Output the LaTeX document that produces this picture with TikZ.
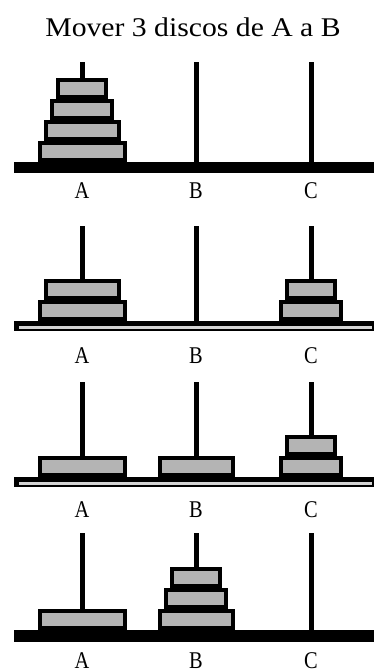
\documentclass[tikz,border=0pt]{standalone}
\usepackage{fontspec}
\setmainfont{Liberation Serif}
\definecolor{diskfill}{HTML}{B4B4B4}
\definecolor{barlight}{HTML}{D4D4D4}
\newcommand{\hdisk}[3]{\draw[disk] ({#1-#2/2+2},{#3-21+2}) rectangle ({#1+#2/2-2},{#3-2});}
\newcommand{\hpeg}[3]{\fill[peg] ({#1-2.5},#2) rectangle ({#1+2.5},#3);}
\begin{document}
\begin{tikzpicture}[x=1pt,y=-1pt,
  disk/.style={draw=black,line width=4pt,fill=diskfill},
  peg/.style={black},
  lbl/.style={font=\fontsize{24}{24}\selectfont,anchor=base,inner sep=0pt},
  ttl/.style={font=\fontsize{27}{27}\selectfont,anchor=base,inner sep=0pt}]
\useasboundingbox[fill=white] (0,0) rectangle (374,672);
\node[ttl] (title) at (193,36) {\scalebox{1.1}[1]{Mover 3 discos de A a B}};
% ---- panel 1 ----
\hpeg{82}{62}{162}\hpeg{196}{62}{162}\hpeg{311}{62}{162}
\hdisk{82}{89}{162}\hdisk{82}{77}{141}\hdisk{82}{64}{120}\hdisk{82}{52}{99}
\fill[black] (14,162) rectangle (374,173);
\node[lbl] (A1) at (82,198) {\scalebox{0.85}[1]{A}};
\node[lbl] (B1) at (196,198) {\scalebox{0.85}[1]{B}};
\node[lbl] (C1) at (311,198) {\scalebox{0.85}[1]{C}};
% ---- panel 2 ----
\hpeg{82}{226}{321}\hpeg{196}{226}{321}\hpeg{311}{226}{321}
\hdisk{82}{89}{321}\hdisk{82}{77}{300}
\hdisk{311}{64}{321}\hdisk{311}{52}{300}
\fill[black] (14,321) rectangle (374,331);
\fill[barlight] (19,326) rectangle (372,329);
\node[lbl] (A2) at (82,363) {\scalebox{0.85}[1]{A}};
\node[lbl] (B2) at (196,363) {\scalebox{0.85}[1]{B}};
\node[lbl] (C2) at (311,363) {\scalebox{0.85}[1]{C}};
% ---- panel 3 ----
\hpeg{82}{382}{477}\hpeg{196}{382}{477}\hpeg{311}{382}{477}
\hdisk{82}{89}{477}
\hdisk{196}{77}{477}
\hdisk{311}{64}{477}\hdisk{311}{52}{456}
\fill[black] (14,477) rectangle (374,487);
\fill[barlight] (19,482) rectangle (372,485);
\node[lbl] (A3) at (82,517) {\scalebox{0.85}[1]{A}};
\node[lbl] (B3) at (196,517) {\scalebox{0.85}[1]{B}};
\node[lbl] (C3) at (311,517) {\scalebox{0.85}[1]{C}};
% ---- panel 4 ----
\hpeg{82}{533}{630}\hpeg{196}{533}{630}\hpeg{311}{533}{630}
\hdisk{82}{89}{630}
\hdisk{196}{77}{630}\hdisk{196}{64}{609}\hdisk{196}{52}{588}
\fill[black] (14,630) rectangle (374,642);
\node[lbl] (A4) at (82,668) {\scalebox{0.85}[1]{A}};
\node[lbl] (B4) at (196,668) {\scalebox{0.85}[1]{B}};
\node[lbl] (C4) at (311,668) {\scalebox{0.85}[1]{C}};
\end{tikzpicture}
\end{document}
